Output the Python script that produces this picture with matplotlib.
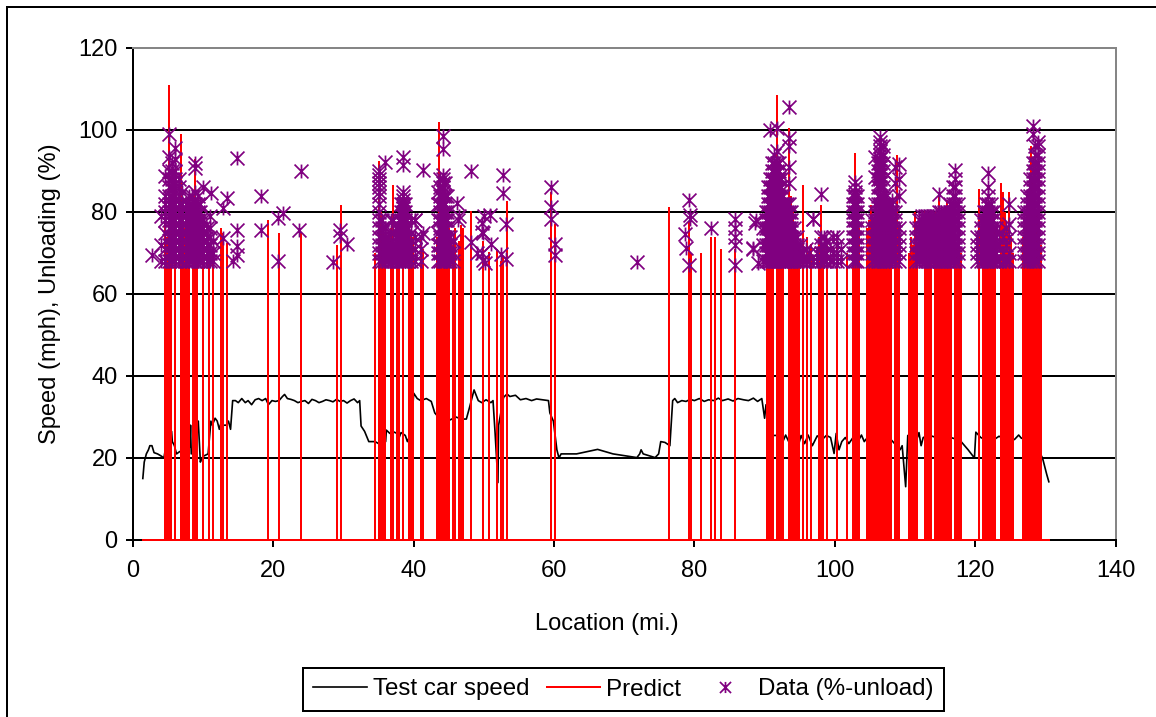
import numpy as np
import matplotlib
from matplotlib import pyplot as plt
from matplotlib.path import Path

matplotlib.use('Agg')

plt.rcParams['font.family'] = ['Liberation Sans', 'DejaVu Sans']

# test car speed
speed_loc = [1.4, 1.6, 1.9, 2.2, 2.4, 2.7, 3.0, 3.5, 4.0, 4.4,
             4.6, 4.7, 5.0, 5.3, 5.5, 5.6, 5.9, 6.2, 6.6, 7.2,
             7.8, 8.1, 8.2, 8.3, 8.7, 9.2, 9.3, 9.6, 9.8, 10.1,
             10.7, 11.1, 11.3, 11.7, 12.0, 12.3, 12.6, 12.9, 13.3, 13.6,
             13.9, 14.2,
             14.6, 15, 15.5, 16, 16.4, 16.9, 17.4, 17.9, 18.4, 18.9,
             19.3, 19.8, 20.3, 20.8, 21.3, 21.6, 22, 22.5, 23, 23.5,
             24, 24.5, 25, 25.5, 26, 26.5, 27, 27.5, 28, 28.5,
             29, 29.5, 30, 30.5, 31, 31.5, 32, 32.3,
             32.5, 33, 33.6, 34.5, 35, 35.2, 36, 36.1, 36.6, 37.1,
             37.6, 37.7, 38.2, 38.8, 39.1, 39.6, 40, 40.5, 41, 41.8,
             42.5, 43, 43.5, 44.5, 45.2, 46, 46.8, 47.5, 47.9, 48.6,
             49.2, 49.7, 50.3, 51, 51.3, 51.6, 52, 52.1, 52.8, 53.3,
             53.7, 54.5, 55.2, 56, 56.8, 57.5, 58.3, 59.2, 59.4, 59.9,
             60.4, 60.7, 61, 63.2, 66.2, 68.4, 71.8, 72.2, 72.4, 72.7,
             74.4, 74.9, 75.2, 75.8, 76.5, 76.9, 77.2, 77.6, 78.2, 78.8,
             79.4, 80, 80.7, 81.4, 82, 82.8, 83.4, 84, 84.8, 85.5,
             86.2, 87, 87.7, 88.4, 89, 89.6, 90, 90.2,
             91, 92, 92.6, 93, 93.7, 94.2, 94.8, 95.2, 95.7, 96.2,
             96.8, 97.5, 98.2, 98.8, 99.4, 99.9, 100.2, 100.6, 101, 101.5,
             102, 102.6, 103.3, 103.8, 104.2, 105, 106, 107, 108, 108.8,
             109.3, 109.6, 109.9, 110.1, 110.4, 111, 111.6, 112, 112.3, 112.6,
             113.5, 114.5, 115.5, 116.5, 117.5, 118, 119, 119.9, 120.1, 120.8,
             121.4, 122, 122.8, 123.4, 124, 124.8, 125.6, 126.2, 126.6, 127,
             128.2, 129, 129.6, 130.2, 130.5]
speed_mph = [15, 19, 21, 22, 23, 23, 21.3, 21, 20.5, 20,
             22, 20.5, 22, 23, 26.5, 24, 23, 21, 21.5, 22,
             21, 23, 28, 21, 22, 28, 29, 19, 20, 20.5,
             21, 29, 28, 29.7, 29, 27, 29, 28, 28, 29,
             27, 34,
             34, 33.5, 34.5, 33.5, 34, 33, 34.2, 34.5, 34, 34.5,
             33, 34, 33.8, 34, 35, 35.5, 34.5, 34.3, 34, 33.5,
             33.8, 34, 33.3, 34.3, 34, 33.5, 33.8, 34.2, 34, 33.7,
             34.3, 33.8, 34, 33.4, 34, 34.4, 33.5, 34,
             27.8, 26.5, 24, 24, 23.5, 24, 24, 26.8, 26, 26.4,
             26, 24, 26.2, 25.5, 24, 26, 35.8, 34.5, 34, 34.5,
             33.8, 31, 30, 30, 29.3, 30, 29.5, 29.5, 32, 36.6,
             34, 33.5, 34.2, 33.5, 34, 26, 14, 28, 34.8, 35.6,
             35, 35.3, 34.2, 34.5, 34, 34.4, 34.2, 34, 31, 29,
             22, 20, 21, 21, 22.1, 21, 20.1, 21, 22, 21,
             20.1, 21, 24, 23.8, 23, 34, 34.5, 33.5, 34, 33.8,
             34.3, 34, 34.5, 33.8, 34.2, 34, 34.6, 34, 34.4, 33.9,
             34.5, 34.2, 34, 34.6, 33.8, 34.5, 29.7, 33,
             25.5, 25.5, 24, 25.6, 23, 25.8, 23, 25.5, 23.5, 25.6,
             23, 25.4, 24.5, 25.5, 25, 21.1, 26, 22, 24, 25,
             23.5, 25, 24, 25.6, 24, 25.8, 26, 25, 24.5, 23,
             22, 23, 17, 13, 25.5, 23, 24, 26.2, 23, 25,
             25.5, 25, 25.6, 25, 24.5, 24, 22, 20, 26.3, 25,
             24.5, 25.3, 24.6, 25.3, 24.8, 25, 24.5, 25.6, 24.8, 25,
             25.5, 22, 20, 16, 14.2]

# predicted unloading spikes, one location per red line
predict_loc = [4.56, 4.84, 5.13, 5.41, 5.98,
               6.84, 7.12, 7.41, 7.69, 7.98,
               8.55, 8.83, 9.12, 9.97, 10.83, 11.4,
               12.54, 12.82, 13.39, 19.23, 20.8, 23.93,
               29.06, 29.63, 34.47, 35.04, 35.33, 35.61, 35.9,
               36.75, 37.04, 37.6, 37.89, 38.46,
               39.32, 39.6, 39.89, 41.03, 41.31,
               43.3, 43.59, 43.87, 44.16, 44.44, 44.73, 45.01,
               45.58, 45.87, 46.44, 46.72, 47.01, 48.15,
               49.86, 50.71, 51.85, 52.42, 52.71, 53.28,
               59.54, 60.11, 76.35, 79.2, 79.49, 80.91,
               82.34, 82.91, 83.76, 85.75,
               90.31, 90.6, 90.88, 91.17, 91.74, 92.02, 92.31, 92.59,
               93.45, 93.73, 94.02, 94.3, 94.59, 94.87,
               95.44, 96.01, 96.65, 97.72, 98.01, 98.29, 98.86, 100.28, 101.71,
               102.56, 102.85, 103.13, 103.42,
               104.56, 104.84, 105.13, 105.41, 105.7, 105.98, 106.27,
               106.55, 106.84, 107.12, 107.41, 107.69, 107.98,
               108.55, 108.83, 109.12,
               110.54, 110.83, 111.11, 111.4, 111.68,
               112.82, 113.11, 113.39, 113.68,
               114.25, 114.53, 114.81, 115.1, 115.38, 115.67, 115.95, 116.24, 116.52,
               117.09, 117.38, 117.66, 117.95,
               120.51, 121.08, 121.37, 121.65, 121.94, 122.22, 122.51, 122.79,
               123.65, 123.93, 124.22, 124.5, 124.79, 125.07, 125.36,
               126.78, 127.07, 127.35, 127.64, 127.92, 128.21, 128.49, 128.77, 129.06, 129.34]
predict_pct = [78, 74, 111, 80, 88,
               99, 80, 76, 72, 75,
               76, 93, 78, 70, 69, 71.5,
               76, 75, 72.5, 78, 75, 75,
               72, 81.7, 70, 92.5, 80, 76, 72,
               76, 86.6, 76, 74, 72,
               75, 74.5, 74, 74, 71,
               74, 102, 85, 78, 76, 80, 76,
               72, 76, 73, 76.8, 76, 80.2,
               73, 70.3, 71, 68, 69, 82.7,
               85, 77, 81.2, 77.6, 70, 70,
               73.9, 73.9, 71, 71,
               78, 82, 80, 85, 108.5, 90, 82, 78,
               100.6, 84, 80, 76, 74, 72,
               86.5, 73.8, 72.3, 74, 81.6, 72, 72, 74, 70,
               80, 94.3, 82, 76,
               76, 78, 81.6, 78, 80, 76, 82,
               78, 80, 76, 78, 80, 76,
               72, 94, 76,
               70, 74, 72, 80, 72,
               80.6, 76, 72, 70,
               80, 76, 84, 78, 72, 76, 83, 74, 72,
               74, 72, 76, 70,
               85.5, 72, 76, 80, 78, 74, 72, 76,
               87, 85, 80, 76, 85, 74, 70,
               74, 78, 82, 84, 96, 88, 84, 80, 76, 72]

# % unload readings, one list of values for each location
left_loc = [4.0, 4.5, 5.1, 5.5, 6.0, 6.5, 7.0, 7.5, 8.0, 8.4, 8.8, 9.2, 9.6, 10.0, 10.5, 11.0, 11.4]
left_pct = [
    [68, 72, 79],
    [68, 71, 75, 78, 80, 82, 84, 88.8],
    [68, 70, 72, 74, 76, 78, 80, 82, 84, 86, 88, 90, 93.3, 99],
    [68, 70, 72, 74, 76, 78, 80, 82, 84, 86, 88, 90, 92],
    [68, 70, 72, 74, 76, 78, 80, 82, 84, 86, 88, 90, 93, 95.5],
    [68, 70, 72, 74, 76, 78, 80, 82, 84, 86, 88],
    [68, 70, 72, 74, 76, 78, 80, 82, 85],
    [68, 70, 72, 74, 76, 78, 80, 82],
    [68, 70, 72, 74, 76, 78, 80, 82, 84],
    [68, 70, 72, 74, 76, 78, 80, 82, 84],
    [68, 70, 72, 74, 76, 78, 80, 82, 85, 90.7, 92],
    [68, 70, 72, 74, 76, 78, 80, 82, 84],
    [68, 70, 72, 74, 76, 78, 80, 82],
    [68, 70, 72, 74, 76, 78, 86],
    [68, 70, 72, 74, 76],
    [68, 70, 72, 74, 76, 79],
    [68, 70, 73],
]
west_loc = [35.1, 35.5, 35.9, 36.3, 36.7, 37.1, 37.5, 37.9, 38.2, 38.5, 38.8, 39.2, 39.6, 40.2, 41.0]
west_pct = [
    [68, 70, 72, 74, 76, 78, 80, 82, 84, 85, 86, 87, 88, 89, 90],
    [68, 70, 72, 74, 76, 78],
    [68, 70, 72, 74, 76, 92.3],
    [68, 70, 72, 74],
    [68, 70, 72, 75, 78],
    [68, 70, 72, 75, 78],
    [68, 70, 72, 74, 76],
    [68, 70, 72, 74, 76, 78],
    [68, 70, 72, 74, 76, 78, 80, 82],
    [68, 70, 72, 74, 76, 77, 78, 79, 80, 81, 82, 83, 84, 85, 91.5, 93.5],
    [68, 70, 72, 74, 76, 78, 80, 82],
    [68, 70, 72, 74, 76],
    [68, 70, 72, 75, 78],
    [68, 71, 74, 78],
    [68, 71, 74],
]
mid_loc = [43.4, 43.8, 44.2, 44.5, 44.8, 45.2, 45.6]
mid_pct = [
    [68, 70, 72, 75, 78, 82, 85],
    [68, 70, 72, 74, 76, 78, 80, 82, 84, 86, 88],
    [68, 70, 72, 74, 76, 78, 80, 82, 84, 85, 86, 87, 88, 89, 95.3, 98.5],
    [68, 70, 72, 74, 76, 78, 80, 82, 84, 87],
    [68, 70, 72, 74, 76, 78, 80, 84],
    [68, 70, 72, 74],
    [68, 70, 73],
]
right_loc = [89.7, 90.2, 90.5, 90.8, 91.1, 91.4, 91.7, 92.0, 92.3, 92.6, 92.9, 93.2, 93.5, 93.8, 94.2,
             94.6, 95.0, 95.4, 95.9, 96.3, 96.9, 97.4, 98.1, 98.5, 98.8, 99.3, 99.8, 100.3, 100.9,
             102.6, 102.9, 103.2, 105.3, 105.7, 106.1, 106.5, 106.9, 107.3, 107.7, 108.1, 108.6, 109.1,
             111.6, 112.0, 112.4, 112.8, 113.2, 113.6, 114.0, 114.4, 114.8, 115.2, 115.6, 116.0, 116.4,
             116.8, 117.2, 117.5,
             120.2, 120.8, 121.2, 121.5, 121.9, 122.2, 122.5, 123.0, 123.4, 124.0, 124.4, 124.8,
             127.0, 127.4, 127.8, 128.2, 128.5, 128.9]
right_pct = [
    [68, 72, 76],
    [68, 70, 72, 74, 76, 78, 80],
    [68, 70, 72, 74, 76, 78, 80, 82, 84, 86],
    [68, 70, 72, 74, 76, 78, 80, 82, 84, 86, 88, 100],
    [68, 70, 72, 74, 76, 78, 80, 82, 84, 86, 88, 90, 92],
    [68, 70, 72, 74, 76, 78, 80, 82, 84, 86, 88, 90, 92, 94],
    [68, 70, 72, 74, 76, 78, 80, 82, 84, 86, 88, 90, 92, 95, 100.4],
    [68, 70, 72, 74, 76, 78, 80, 82, 84, 86, 88, 90, 92],
    [68, 70, 72, 74, 76, 78, 80, 82, 84, 86, 88],
    [68, 70, 72, 74, 76, 78, 80, 82, 84],
    [68, 70, 72, 74, 76, 78, 80, 82],
    [68, 70, 72, 74, 76, 78, 80, 82],
    [68, 70, 72, 74, 76, 78, 80, 82, 87, 91, 96, 98, 105.5],
    [68, 70, 72, 74, 76, 78, 80],
    [68, 70, 72, 74, 76],
    [68, 70, 72, 74],
    [68, 70, 72],
    [68, 70],
    [68, 71],
    [68, 70],
    [68, 78.2],
    [68, 70],
    [68, 70, 72, 74, 84.4],
    [68, 70, 72, 74],
    [68, 70, 73],
    [68, 71],
    [68, 70, 74],
    [68, 70, 72, 74],
    [68, 71],
    [68, 70, 72, 74, 76, 78, 80, 82, 84],
    [68, 70, 72, 74, 76, 78, 80, 82, 84, 85, 86, 87.4],
    [68, 70, 72, 74, 76, 78, 80, 82, 84],
    [68, 70, 72, 74, 76, 78],
    [68, 70, 72, 74, 76, 78, 80, 82, 88.6, 93.5],
    [68, 70, 72, 74, 76, 78, 80, 82, 84, 86, 88, 90, 92],
    [68, 70, 72, 74, 76, 78, 80, 82, 84, 86, 87, 88, 89, 90, 91, 92, 93, 94, 95, 96, 97, 98.4],
    [68, 70, 72, 74, 76, 78, 80, 82, 84, 86, 88, 90, 92, 94, 96],
    [68, 70, 72, 74, 76, 78, 80, 82, 84],
    [68, 70, 72, 74, 76, 78, 80, 82],
    [68, 70, 72, 74, 76, 78, 80, 82, 83],
    [68, 70, 72, 74, 76, 78, 80, 87, 91],
    [68, 70, 72, 74, 76, 84, 88, 91.8],
    [68, 70, 72, 74, 76],
    [68, 70, 72, 74, 76, 78],
    [68, 70, 72, 74, 76, 78, 79],
    [68, 70, 72, 74, 76, 78, 79],
    [68, 70, 72, 74, 76, 78, 79],
    [68, 70, 72, 74, 76, 78, 79],
    [68, 70, 72, 74, 76, 78, 79],
    [68, 70, 72, 74, 76, 78, 79],
    [68, 70, 72, 74, 76, 78, 80, 84.4],
    [68, 70, 72, 74, 76, 78, 80],
    [68, 70, 72, 74, 76, 78, 80],
    [68, 70, 72, 74, 76, 78, 80],
    [68, 70, 72, 74, 76, 78, 80, 82],
    [68, 70, 72, 74, 76, 78, 80, 82, 84, 86],
    [68, 70, 72, 74, 76, 78, 80, 82, 84, 86, 88, 90.3],
    [68, 70, 72, 74, 76, 78, 80, 82],
    [68, 70, 72, 74],
    [68, 70, 72, 74, 76, 78],
    [68, 70, 72, 74, 76, 78, 80],
    [68, 70, 72, 74, 76, 78, 80, 82],
    [68, 70, 72, 74, 76, 78, 80, 82, 84, 86.2, 89.4],
    [68, 70, 72, 74, 76, 78, 80, 82],
    [68, 70, 72, 74, 76, 78, 80],
    [68, 70, 72, 74, 76],
    [68, 72, 75],
    [68, 70, 74],
    [68, 72, 76],
    [68, 70, 74, 77, 82],
    [68, 70, 72, 74, 76, 78, 80],
    [68, 70, 72, 74, 76, 78, 80, 82, 84],
    [68, 70, 72, 74, 76, 78, 80, 82, 84, 86, 88],
    [68, 70, 72, 74, 76, 78, 80, 82, 84, 86, 88, 90, 92, 99, 101],
    [68, 70, 72, 74, 76, 78, 80, 82, 84, 86, 88, 90, 92, 94, 96],
    [68, 70, 72, 74, 76, 78, 80, 82, 84, 86, 88, 90, 92, 94, 96, 97],
]
sparse_loc = [2.7, 11.1, 12.8, 12.8, 13.4, 14.8, 14.8, 14.8, 14.8, 14.2, 18.2, 18.2, 20.7, 20.7, 21.4, 23.7, 23.9,
              28.5, 29.5, 29.5, 30.5, 41.3, 41.3, 40.2,
              46.2, 46.5, 46.3, 48.1, 48.1, 49, 49.7, 49.7, 49.7, 49.9, 49.9, 50, 50.1, 50.9, 51,
              52.5, 52.7, 52.7, 53.2, 53.2, 59.5, 59.5, 59.5, 60.1, 60.1,
              71.8, 78.6, 78.8, 79.2, 79.2, 79.4, 79.4, 82.3, 85.8, 85.8, 85.8, 85.8, 85.8,
              88.4, 88.7, 88.8, 89, 88.4, 96.9]
sparse_pct = [69.5, 84.7, 80.9, 73.6, 83.3, 93.1, 75.6, 71.7, 69.5, 68.1, 84, 75.6, 78.5, 68.1, 79.7, 75.6, 90,
              67.7, 75.6, 74.2, 72.2, 90.3, 75, 78,
              82.1, 79, 78, 90, 72.8, 69.9, 77.2, 75.2, 69.9, 75, 68.3, 79, 67.5, 79.3, 72.3,
              69.8, 89, 84.7, 77, 68.5, 86, 81.1, 78.4, 72.3, 69.5,
              67.7, 74.6, 71.2, 83, 67, 79.3, 78.4, 76, 78.4, 76, 74, 71.9, 67,
              70.9, 77.2, 78, 67.5, 71.2, 78.2]

x_ticks = [0, 20, 40, 60, 80, 100, 120, 140]
y_ticks = [0, 20, 40, 60, 80, 100, 120]

BLACK_LW = 1.44
FONT_SIZE = 17
PURPLE = '#800080'
# Excel star: an X with a vertical stroke through it
STAR = Path([(-1, -1), (1, 1), (-1, 1), (1, -1), (0, -1), (0, 1)],
            [Path.MOVETO, Path.LINETO, Path.MOVETO, Path.LINETO, Path.MOVETO, Path.LINETO])


def flatten(locations, values):
    xs = []
    ys = []
    for location, column in zip(locations, values):
        xs += [location] * len(column)
        ys += column
    return xs, ys


def spike_line(locations, heights):
    # red series drops back to zero between spikes, as in the sheet
    locs = np.asarray(locations)
    pcts = np.asarray(heights)
    xs = np.repeat(locs, 3)
    ys = np.column_stack((np.zeros_like(pcts), pcts, np.zeros_like(pcts))).ravel()
    xs = np.concatenate(([speed_loc[0]], xs, [speed_loc[-1]]))
    ys = np.concatenate(([0], ys, [0]))
    return xs, ys


data_x = []
data_y = []
for group_loc, group_pct in [(left_loc, left_pct), (west_loc, west_pct), (mid_loc, mid_pct), (right_loc, right_pct)]:
    group_x, group_y = flatten(group_loc, group_pct)
    data_x += group_x
    data_y += group_y
data_x += sparse_loc
data_y += sparse_pct

fig = plt.figure(figsize=(11.56, 7.17), dpi=100)
ax = fig.add_axes([133 / 1156, 1 - 540 / 717, (1115.5 - 133) / 1156, (540 - 48) / 717])

ax.plot(speed_loc, speed_mph, color='black', lw=1.2, label='Test car speed', zorder=3)
predict_x, predict_y = spike_line(predict_loc, predict_pct)
ax.plot(predict_x, predict_y, color='#ff0000', lw=1.44, solid_joinstyle='miter', label='Predict', zorder=4,
        clip_on=False)
ax.plot(data_x, data_y, linestyle='none', marker=STAR, ms=10, mew=1.25, mfc='none', color=PURPLE,
        label='Data (%-unload)', zorder=5, clip_on=False)

ax.set_xlim(0, 140)
ax.set_ylim(0, 120)
ax.set_xticks(x_ticks)
ax.set_yticks(y_ticks)
ax.tick_params(length=5, width=BLACK_LW, labelsize=FONT_SIZE, color='black')
ax.tick_params(axis='x', pad=9.5)
ax.tick_params(axis='y', pad=6)
ax.grid(axis='y', color='black', lw=BLACK_LW)
ax.set_axisbelow(True)
for side in ['top', 'right']:
    ax.spines[side].set_color('#868686')
    ax.spines[side].set_linewidth(BLACK_LW)
for side in ['left', 'bottom']:
    ax.spines[side].set_linewidth(BLACK_LW)

fig.text(607 / 1156, 1 - 624 / 717, 'Location (mi.)', fontsize=FONT_SIZE, ha='center', va='center')
fig.text(50 / 1156, 1 - 294 / 717, 'Speed (mph), Unloading (%)', fontsize=FONT_SIZE, rotation=90,
         ha='center', va='center')

handles, labels = ax.get_legend_handles_labels()
legend = fig.legend(handles, labels, ncol=3, loc='center', bbox_to_anchor=(623.5 / 1156, 1 - 689.5 / 717),
                    fontsize=17.4, frameon=True, fancybox=False, framealpha=1, edgecolor='black',
                    handlelength=2.2, handletextpad=0.26, columnspacing=0.72, borderpad=0.42, borderaxespad=0,
                    markerscale=0.8)
legend.get_frame().set_linewidth(BLACK_LW)

# outer chart-area border runs off the right and bottom of the picture
fig.add_artist(plt.Rectangle((7 / 1156, -0.1), 1.2, 1.1 - 7 / 717, transform=fig.transFigure,
                             fill=False, edgecolor='black', lw=BLACK_LW))

fig.savefig('out.png', dpi=100)
plt.close(fig)
